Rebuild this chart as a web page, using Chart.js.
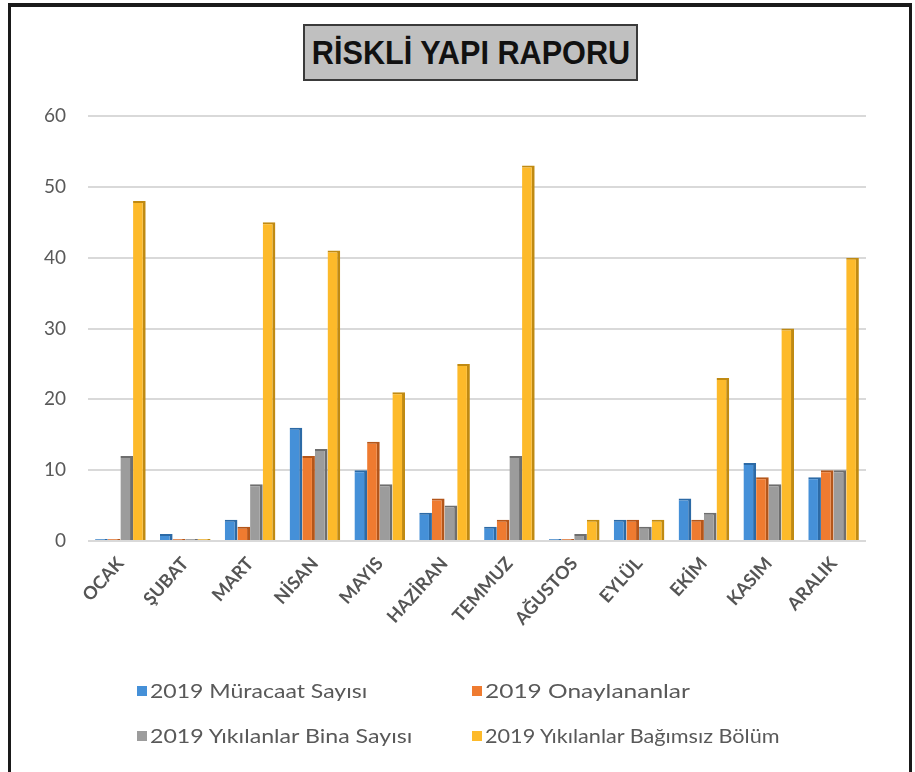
<!DOCTYPE html>
<html>
<head>
<meta charset="utf-8">
<script src="https://cdn.jsdelivr.net/npm/chart.js@4/dist/chart.umd.min.js"></script>
<style>
  html, body { margin: 0; padding: 0; background: #fff; }
  #wrap { position: relative; width: 915px; height: 772px; overflow: hidden; background: #fff; }
  #frame { position: absolute; left: 8px; top: 3px; width: 898px; height: 780px; border: 3px solid #1a1a1a; border-top-width: 4px; }
  #cv { position: absolute; left: 0; top: 0; }
  #title { position: absolute; left: 303px; top: 24px; width: 331px; height: 53px; background: #c0c0c0; border: 2px solid #3a3a3a;
           overflow: hidden; }
  #ttext { position: absolute; left: 50%; top: 0; white-space: nowrap; font-family: "Liberation Sans", Arial, sans-serif; font-weight: bold;
           font-size: 34px; line-height: 53px; color: #111; transform-origin: center center; }
  .li { position: absolute; height: 24px; white-space: nowrap; font-family: Lato, "Open Sans", sans-serif; font-size: 19px; color: #595959; }
  .sw { position: absolute; left: 0; top: 7px; width: 10px; height: 10px; }
  .lt { position: absolute; left: 13px; top: 0; line-height: 24px; transform-origin: left center; }
</style>
</head>
<body>
<div id="wrap">
  <div id="frame"></div>
  <canvas id="cv" width="915" height="772"></canvas>
  <div id="title"><span id="ttext">RİSKLİ YAPI RAPORU</span></div>
  <div id="legend"></div>
</div>
<script>
const months = ["OCAK","ŞUBAT","MART","NİSAN","MAYIS","HAZİRAN","TEMMUZ","AĞUSTOS","EYLÜL","EKİM","KASIM","ARALIK"];
const muracaat   = [0, 1, 3, 16, 10, 4, 2, 0, 3, 6, 11, 9];
const onaylanan  = [0, 0, 2, 12, 14, 6, 3, 0, 3, 3, 9, 10];
const binaSayisi = [12, 0, 8, 13, 8, 5, 12, 1, 2, 4, 8, 10];
const bagimsiz   = [48, 0, 45, 41, 21, 25, 53, 3, 3, 23, 30, 40];
const seriesNames = ["2019 Müracaat Sayısı", "2019 Onaylananlar", "2019 Yıkılanlar Bina Sayısı", "2019 Yıkılanlar Bağımsız Bölüm"];
const yTicks = [0, 10, 20, 30, 40, 50, 60];

const fills   = ["#4590D8", "#EF7B30", "#9C9C9C", "#FDBA2A"];
const borders = ["#2C6AA6", "#B4561A", "#6E6E6E", "#C08A12"];
const seriesData = [muracaat, onaylanan, binaSayisi, bagimsiz];

const datasets = seriesData.map((d, i) => ({
  label: seriesNames[i],
  data: d,
  backgroundColor: fills[i],
  borderColor: borders[i],
  borderWidth: { top: 2, right: 3, bottom: 0, left: 0 },
  borderSkipped: 'start',
  minBarLength: 2,
  categoryPercentage: 0.78,
  barPercentage: 1.0
}));

const chart = new Chart(document.getElementById('cv'), {
  type: 'bar',
  data: { labels: months, datasets },
  options: {
    responsive: false,
    animation: false,
    devicePixelRatio: 1,
    layout: { padding: { left: 10, right: 49, top: 116, bottom: 101 } },
    plugins: { legend: { display: false }, title: { display: false }, tooltip: { enabled: false } },
    scales: {
      x: {
        grid: { display: false, drawTicks: false },
        border: { display: false },
        ticks: { maxRotation: 48, minRotation: 48, padding: 12, color: '#555555',
                 font: { family: 'Lato, "Open Sans", sans-serif', size: 18, weight: 'bold' } },
        afterFit: (s) => { s.height = 130; }
      },
      y: {
        min: 0, max: 60,
        afterBuildTicks: (s) => { s.ticks = yTicks.map(v => ({ value: v })); },
        grid: { color: '#d9d9d9', lineWidth: 2, drawTicks: false },
        border: { display: false },
        ticks: { padding: 22, color: '#595959', font: { family: 'Lato, "Open Sans", sans-serif', size: 19 } },
        afterFit: (s) => { s.width = 78; }
      }
    }
  }
});

// condense title text to the reference width, centred in its box
const tt = document.getElementById('ttext');
tt.style.transform = 'translateX(-50%) scaleX(' + (318 / tt.offsetWidth).toFixed(3) + ')';

// legend built from the chart's datasets (2 x 2 grid)
const legendPos = [[137, 679], [472, 679], [137, 724], [472, 724]];
const legendWidths = [217, 205, 262, 295];
const lg = document.getElementById('legend');
chart.data.datasets.forEach((ds, i) => {
  const it = document.createElement('div'); it.className = 'li';
  it.style.left = legendPos[i][0] + 'px'; it.style.top = legendPos[i][1] + 'px';
  const sw = document.createElement('span'); sw.className = 'sw'; sw.style.background = ds.backgroundColor;
  const tx = document.createElement('span'); tx.className = 'lt'; tx.textContent = ds.label;
  it.appendChild(sw); it.appendChild(tx);
  lg.appendChild(it);
  tx.style.transform = 'scaleX(' + (legendWidths[i] / tx.offsetWidth).toFixed(3) + ')';
});
</script>
</body>
</html>
